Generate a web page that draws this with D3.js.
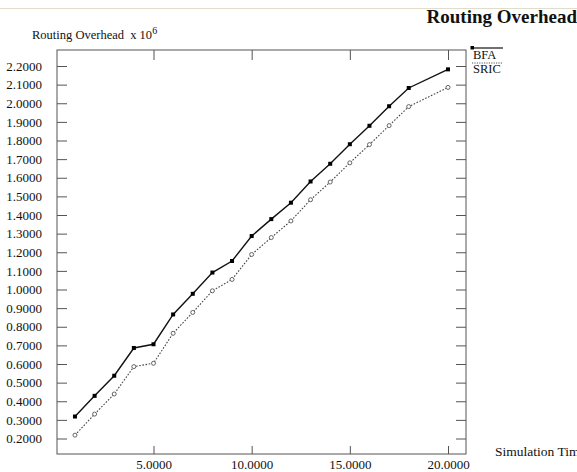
<!DOCTYPE html>
<html><head><meta charset="utf-8">
<script src="https://cdn.jsdelivr.net/npm/d3@7"></script>
<style>body{margin:0;background:#fff;overflow:hidden}svg{display:block}text{font-family:"Liberation Serif","DejaVu Serif",serif;fill:#111}</style>
</head><body>
<script>
const simTime = [1,2,3,4,5,6,7,8,9,10,11,12,13,14,15,16,17,18,20];
const bfa  = [0.318,0.429,0.537,0.686,0.706,0.866,0.977,1.091,1.153,1.287,1.378,1.466,1.580,1.675,1.780,1.879,1.984,2.082,2.182];
const sric = [0.218,0.331,0.439,0.586,0.604,0.765,0.877,0.993,1.054,1.188,1.279,1.368,1.482,1.577,1.680,1.778,1.880,1.982,2.085];
const xTicks = [5,10,15,20];
const yTicks = [0.2,0.3,0.4,0.5,0.6,0.7,0.8,0.9,1.0,1.1,1.2,1.3,1.4,1.5,1.6,1.7,1.8,1.9,2.0,2.1,2.2];
const seriesNames = ["BFA","SRIC"];

const W=577,H=472;
const L=57,R=466,T=50,B=454;
const svg=d3.select("body").append("svg").attr("width",W).attr("height",H);
const x=d3.scaleLinear().domain([5,20]).range([153.5,448]);
const y=d3.scaleLinear().domain([0.2,2.2]).range([438.5,66]);

// top faint rule
svg.append("line").attr("x1",0).attr("x2",W).attr("y1",8.5).attr("y2",8.5).attr("stroke","#e2dccb").attr("stroke-width",1);

// frame
svg.append("rect").attr("x",L).attr("y",T).attr("width",R-L).attr("height",B-T).attr("fill","none").attr("stroke","#555").attr("stroke-width",1);

const fmt=d3.format(".4f");
// axes with inward ticks
svg.append("g").attr("transform",`translate(${L},0)`).call(d3.axisLeft(y).tickValues(yTicks).tickSize(-10).tickPadding(15).tickFormat(fmt))
 .call(g=>{g.select(".domain").remove();g.selectAll("line").attr("stroke","#555");g.selectAll("text").attr("font-size",13).attr("font-family","Liberation Serif").attr("fill","#222");});
svg.append("g").attr("transform",`translate(${R},0)`).call(d3.axisRight(y).tickValues(yTicks).tickSize(-10).tickFormat(""))
 .call(g=>{g.select(".domain").remove();g.selectAll("line").attr("stroke","#555");});
svg.append("g").attr("transform",`translate(0,${B})`).call(d3.axisBottom(x).tickValues(xTicks).tickSize(-8).tickFormat(fmt))
 .call(g=>{g.select(".domain").remove();g.selectAll("line").attr("stroke","#555");g.selectAll("text").attr("font-size",13).attr("font-family","Liberation Serif").attr("fill","#222").attr("y",15).attr("dy",0);});
svg.append("g").attr("transform",`translate(0,${T})`).call(d3.axisTop(x).tickValues(xTicks).tickSize(-10).tickFormat(""))
 .call(g=>{g.select(".domain").remove();g.selectAll("line").attr("stroke","#555");});

// titles
svg.append("text").attr("x",577).attr("y",23).attr("text-anchor","end").attr("font-size",19).attr("font-weight","bold").text("Routing Overhead");
const yl=svg.append("text").attr("x",32).attr("y",39).attr("font-size",12.5).attr("xml:space","preserve");
yl.append("tspan").text("Routing Overhead\u00a0 x 10");
yl.append("tspan").attr("font-size",10).attr("dy",-5).text("6");
svg.append("text").attr("x",495).attr("y",456).attr("font-size",13.5).text("Simulation Time");

// lines
const pts=(vals)=>simTime.map((t,i)=>[t,vals[i]]);
const line=d3.line().x(d=>x(d[0])).y(d=>y(d[1]));
svg.append("path").attr("d",line(pts(sric))).attr("fill","none").attr("stroke","#444").attr("stroke-width",1.1).attr("stroke-dasharray","1.6,1.6");
svg.append("path").attr("d",line(pts(bfa))).attr("fill","none").attr("stroke","#111").attr("stroke-width",1.4);
svg.selectAll(".ps").data(pts(sric)).join("circle").attr("cx",d=>x(d[0])).attr("cy",d=>y(d[1])).attr("r",2).attr("fill","#fff").attr("stroke","#555").attr("stroke-width",0.9);
svg.selectAll(".pb").data(pts(bfa)).join("rect").attr("x",d=>x(d[0])-2).attr("y",d=>y(d[1])-2).attr("width",4).attr("height",4).attr("fill","#000");

// legend
svg.append("line").attr("x1",472).attr("x2",503).attr("y1",48).attr("y2",48).attr("stroke","#111").attr("stroke-width",1.2);
svg.append("rect").attr("x",470.5).attr("y",46).attr("width",3.5).attr("height",3.5).attr("fill","#000");
svg.append("text").attr("x",473).attr("y",58.5).attr("font-size",12.5).text(seriesNames[0]);
svg.append("line").attr("x1",472).attr("x2",502).attr("y1",63).attr("y2",63).attr("stroke","#555").attr("stroke-width",1.1).attr("stroke-dasharray","1.2,1.2");
svg.append("text").attr("x",473).attr("y",72.5).attr("font-size",12.5).text(seriesNames[1]);
</script>
</body></html>
